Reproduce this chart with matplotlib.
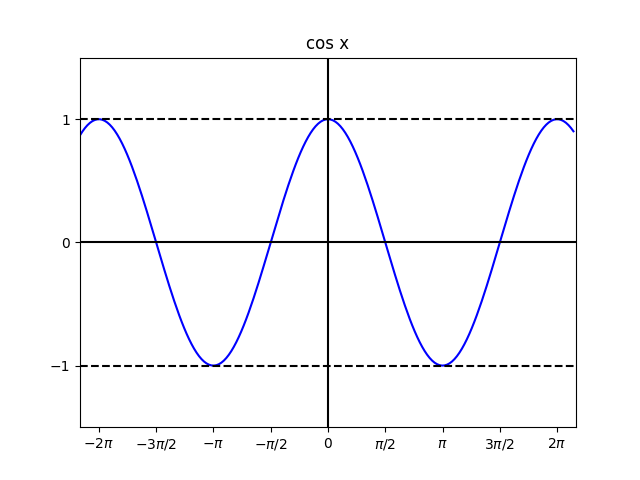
import numpy as np
import matplotlib
matplotlib.use("Agg")
import matplotlib.pyplot as plt

# x range shown, the sampled range, and the tick positions (multiples of pi/2)
x_limits = [-6.8, 6.8]
x_samples = [-6.8, 6.73]
tick_multiples = [-4, -3, -2, -1, 0, 1, 2, 3, 4]
tick_labels = [r"$-2\pi$", r"$-3\pi/2$", r"$-\pi$", r"$-\pi/2$", "0",
               r"$\pi/2$", r"$\pi$", r"$3\pi/2$", r"$2\pi$"]
y_ticks = [-1, 0, 1]
y_range = [-1.5, 1.5]

x = np.linspace(x_samples[0], x_samples[1], 200)
y = np.cos(x)

fig, ax = plt.subplots(figsize=(6.4, 4.8), dpi=100)
ax.plot(x, y, color="blue")
ax.axhline(0, color="black")
ax.axvline(0, color="black")
ax.axhline(1, color="black", linestyle="--")
ax.axhline(-1, color="black", linestyle="--")

ax.set_xlim(x_limits)
ax.set_ylim(y_range)
ax.set_xticks([m * np.pi / 2 for m in tick_multiples])
ax.set_xticklabels(tick_labels)
ax.set_yticks(y_ticks)
ax.set_title("cos x")

fig.savefig("out.png")
